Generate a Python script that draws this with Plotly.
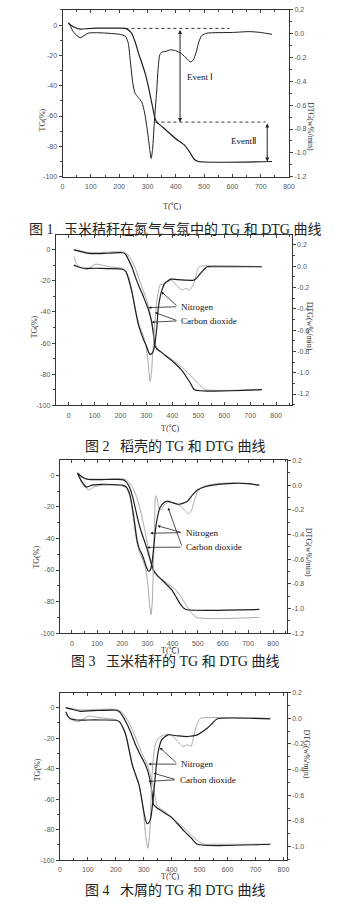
import plotly.graph_objects as go

# ---------------- data ----------------
# Fig.1  corn stalk in nitrogen
T1_TG = [20, 40, 62, 90, 120, 160, 200, 222, 235, 246, 258, 269, 280, 292, 305, 318, 326, 333, 345, 370, 400, 430, 450, 465, 480, 740]
TG1 = [1.3, -1.2, -2.6, -2.3, -2, -2, -2, -2.2, -3.5, -6, -12, -19, -25, -32, -42, -54, -61, -64, -66, -70, -75, -79, -84, -88.5, -90, -90]
T1_DTG = [22, 40, 62, 90, 120, 200, 222, 232, 240, 248, 256, 268, 280, 290, 300, 308, 313, 318, 325, 332, 338, 343, 350, 365, 380, 400, 420, 440, 452, 462, 472, 482, 492, 510, 600, 660, 700, 740]
DTG1 = [0.094, 0.011, -0.033, 0.005, 0.009, -0.004, -0.021, -0.078, -0.244, -0.410, -0.499, -0.537, -0.575, -0.665, -0.818, -0.971, -1.047, -0.971, -0.716, -0.499, -0.282, -0.180, -0.155, -0.148, -0.135, -0.142, -0.167, -0.212, -0.237, -0.218, -0.155, -0.065, -0.014, 0.005, 0.011, 0.018, 0.011, -0.005]

# Fig.2  rice husk
T2_TG_N2 = [20, 40, 69, 107, 150, 207, 220, 232, 245, 257, 270, 283, 295, 308, 318, 326, 333, 345, 358, 380, 408, 433, 455, 470, 485, 745]
TG2_N2 = [0, -0.8, -2.1, -2.5, -2.2, -1.9, -3, -6.8, -11.5, -17.4, -23, -28, -33, -38.7, -45, -53, -62, -64.5, -66, -69, -72.8, -77, -82, -86, -90, -90]
T2_TG_CO2 = [20, 40, 69, 107, 150, 207, 225, 240, 255, 270, 285, 300, 310, 320, 328, 335, 345, 360, 380, 408, 446, 470, 496, 515, 527, 745]
TG2_CO2 = [0, -0.5, -1.5, -1.8, -1.5, -1.3, -2.5, -6, -11, -18, -25, -32, -38, -46, -54, -61, -64, -66, -68.5, -71.7, -77, -81, -85.5, -88.5, -90, -90]
T2_DTG_N2 = [20, 35, 60, 100, 150, 207, 220, 232, 245, 257, 270, 289, 300, 308, 314, 320, 327, 333, 340, 345, 352, 358, 370, 395, 420, 446, 483, 495, 508, 521, 534, 550, 745]
DTG2_N2 = [0.009, -0.006, -0.020, -0.020, -0.023, -0.029, -0.050, -0.130, -0.254, -0.409, -0.559, -0.691, -0.749, -0.807, -0.828, -0.822, -0.793, -0.720, -0.574, -0.409, -0.297, -0.239, -0.162, -0.122, -0.127, -0.131, -0.131, -0.108, -0.068, -0.035, -0.006, -0.006, -0.006]
T2_DTG_CO2 = [20, 30, 45, 72, 101, 130, 157, 207, 222, 235, 250, 262, 275, 289, 300, 308, 314, 319, 323, 328, 333, 340, 345, 352, 370, 395, 421, 439, 453, 466, 483, 496, 502, 745]
DTG2_CO2 = [0.092, 0.023, -0.013, -0.032, 0.017, 0.009, -0.006, -0.022, -0.050, -0.137, -0.312, -0.457, -0.574, -0.661, -0.778, -0.938, -1.084, -1.011, -0.865, -0.691, -0.516, -0.326, -0.253, -0.176, -0.166, -0.131, -0.192, -0.224, -0.208, -0.224, -0.162, -0.038, -0.006, -0.006]

# Fig.3  corn stalk
T3_TG_N2 = [22, 40, 60, 80, 120, 160, 200, 215, 227, 240, 252, 265, 278, 291, 301, 311, 318, 324, 340, 356, 375, 395, 410, 427, 440, 453, 745]
TG3_N2 = [1.5, -1, -2.5, -2.7, -2.7, -2.6, -2.7, -4, -7, -13, -21, -30, -37, -43, -48, -53.5, -57, -60, -63.5, -66, -69, -72.3, -76, -80.7, -83.5, -85, -85]
T3_TG_CO2 = [22, 40, 60, 80, 120, 160, 200, 214, 227, 240, 253, 265, 278, 291, 304, 312, 320, 335, 356, 380, 408, 430, 447, 470, 494, 745]
TG3_CO2 = [1.5, -1, -2.2, -2.4, -2.4, -2.3, -2.3, -2.7, -4.5, -7.3, -12, -18, -26, -36, -47, -54, -60, -63.5, -66, -68.5, -72, -76, -80.7, -86, -90, -90]
T3_DTG_N2 = [22, 40, 58, 80, 120, 200, 215, 230, 245, 258, 268, 280, 295, 304, 312, 318, 325, 332, 340, 350, 365, 380, 400, 420, 440, 460, 480, 500, 530, 560, 620, 700, 745]
DTG3_N2 = [0.097, 0.026, -0.016, 0.000, 0.007, 0.000, -0.013, -0.077, -0.245, -0.439, -0.517, -0.569, -0.659, -0.698, -0.685, -0.633, -0.504, -0.362, -0.258, -0.181, -0.142, -0.129, -0.142, -0.155, -0.148, -0.129, -0.077, -0.038, -0.013, 0.000, 0.013, 0.013, 0.000]
T3_DTG_CO2 = [22, 40, 65, 90, 120, 200, 218, 232, 245, 258, 268, 280, 292, 300, 308, 314, 319, 324, 328, 333, 338, 345, 356, 366, 380, 400, 420, 440, 455, 465, 475, 488, 500, 520, 560, 650, 745]
DTG3_CO2 = [0.097, 0.013, -0.038, -0.013, 0.000, -0.006, -0.025, -0.103, -0.284, -0.465, -0.543, -0.594, -0.672, -0.775, -0.956, -1.052, -0.956, -0.633, -0.310, -0.085, -0.103, -0.181, -0.201, -0.161, -0.142, -0.142, -0.155, -0.187, -0.219, -0.232, -0.206, -0.116, -0.051, -0.013, 0.007, 0.020, 0.000]

# Fig.4  sawdust
T4_TG_N2 = [21, 45, 73, 120, 201, 215, 236, 253, 271, 288, 306, 315, 323, 330, 335, 347, 370, 399, 420, 445, 470, 492, 753]
TG4_N2 = [0, -1.2, -2.4, -2, -1.7, -3, -9.3, -16, -24.5, -31, -37.5, -42, -48, -56, -63.5, -65.7, -68.5, -72, -76, -81, -85.5, -89.6, -89.6]
T4_TG_CO2 = [21, 45, 73, 120, 201, 220, 240, 258, 276, 294, 312, 322, 332, 340, 347, 360, 380, 399, 420, 445, 470, 495, 515, 538, 753]
TG4_CO2 = [0, -0.8, -1.5, -1.3, -1.2, -2.5, -7.5, -14, -22, -30, -37, -43, -50, -58, -63.5, -66, -69, -71.5, -75, -79, -83.5, -87.5, -89.6, -89.6, -89.6]
T4_DTG_N2 = [21, 35, 60, 100, 150, 200, 213, 225, 236, 248, 259, 271, 283, 292, 300, 306, 312, 318, 325, 335, 345, 352, 364, 387, 422, 457, 492, 510, 527, 545, 562, 753]
DTG4_N2 = [0.052, 0.0, -0.013, -0.013, -0.013, -0.015, -0.026, -0.07, -0.129, -0.25, -0.362, -0.44, -0.517, -0.62, -0.724, -0.79, -0.822, -0.815, -0.78, -0.6, -0.37, -0.258, -0.168, -0.129, -0.137, -0.142, -0.129, -0.105, -0.078, -0.04, -0.005, -0.005]
T4_DTG_CO2 = [21, 40, 67, 102, 140, 200, 213, 225, 236, 248, 259, 271, 283, 292, 300, 307, 315, 322, 329, 335, 341, 352, 376, 399, 422, 440, 457, 469, 480, 490, 498, 503, 753]
DTG4_CO2 = [0.03, -0.01, -0.026, 0.018, 0.005, -0.01, -0.026, -0.07, -0.129, -0.25, -0.362, -0.44, -0.517, -0.62, -0.75, -0.92, -1.013, -0.88, -0.465, -0.3, -0.207, -0.155, -0.129, -0.129, -0.181, -0.220, -0.207, -0.22, -0.129, -0.05, -0.013, 0.0, 0.0]

# tick labels
X_TICKS = [0, 100, 200, 300, 400, 500, 600, 700, 800]
TG_TICKS = [0, -20, -40, -60, -80, -100]
DTG_TICKS = [0.2, 0.0, -0.2, -0.4, -0.6, -0.8, -1.0, -1.2]
DTG_TICKS_4 = [0.2, 0.0, -0.2, -0.4, -0.6, -0.8, -1.0]

CAPTIONS = [
    "图 1\u00a0\u00a0\u00a0玉米秸秆在氮气气氛中的 TG 和 DTG 曲线",
    "图 2\u00a0\u00a0\u00a0稻壳的 TG 和 DTG 曲线",
    "图 3\u00a0\u00a0\u00a0玉米秸秆的 TG 和 DTG 曲线",
    "图 4\u00a0\u00a0\u00a0木屑的 TG 和 DTG 曲线",
]

# ---------------- layout geometry (pixels) ----------------
W, H = 338, 914
# left, right, top, bottom of each plot box
BOXES = [
    (62, 294, 6, 174),
    (55, 296.7, 233, 404.3),
    (59.3, 291.7, 460, 634),
    (59.3, 291.7, 694, 862.7),
]
X_RANGES = [[0, 800], [-50, 860], [-48, 854], [0, 812]]
TG_RANGES = [[-100, 10], [-100, 9.4], [-100, 9.4], [-100, 9.8]]
DTG_RANGES = [[-1.2, 0.2], [-1.305, 0.29], [-1.2, 0.2], [-1.106, 0.2]]
CAPTION_Y = [218, 445, 672, 903]
XTITLE_Y = [198, 428, 658, 886]
YTITLE = [(35, 103), (27, 325), (29, 557), (30, 785)]
Y2TITLE = [(322, 97), (322, 325), (320, 553), (319, 783)]

BLACK = "#1e1e1e"
GRAY = "#a8a8a8"
TICKFONT = dict(family="Liberation Sans, Arial", size=7, color="#555555")
SERIF = "Liberation Serif, Noto Sans CJK SC"


def px(x):
    return x / W


def py(y):
    return 1 - y / H


fig = go.Figure()


def add_line(x, y, i, right, color, width):
    xa = "x" if i == 0 else f"x{i + 1}"
    ya = f"y{2 * i + (2 if right else 1)}"
    if ya == "y1":
        ya = "y"
    fig.add_trace(go.Scatter(x=x, y=y, mode="lines", xaxis=xa, yaxis=ya,
                             line=dict(color=color, width=width, shape="spline", smoothing=0.6),
                             showlegend=False, hoverinfo="skip"))


# Fig.1
add_line(T1_TG, TG1, 0, False, BLACK, 1.2)
add_line(T1_DTG, DTG1, 0, True, BLACK, 1.0)
# Fig.2
add_line(T2_TG_CO2, TG2_CO2, 1, False, GRAY, 1.0)
add_line(T2_DTG_CO2, DTG2_CO2, 1, True, GRAY, 1.0)
add_line(T2_TG_N2, TG2_N2, 1, False, BLACK, 1.2)
add_line(T2_DTG_N2, DTG2_N2, 1, True, BLACK, 1.2)
# Fig.3
add_line(T3_TG_CO2, TG3_CO2, 2, False, GRAY, 1.0)
add_line(T3_DTG_CO2, DTG3_CO2, 2, True, GRAY, 1.0)
add_line(T3_TG_N2, TG3_N2, 2, False, BLACK, 1.2)
add_line(T3_DTG_N2, DTG3_N2, 2, True, BLACK, 1.2)
# Fig.4
add_line(T4_TG_CO2, TG4_CO2, 3, False, GRAY, 1.0)
add_line(T4_DTG_CO2, DTG4_CO2, 3, True, GRAY, 1.0)
add_line(T4_TG_N2, TG4_N2, 3, False, BLACK, 1.2)
add_line(T4_DTG_N2, DTG4_N2, 3, True, BLACK, 1.2)

layout = {}
annotations = []
for i, (l, r, t, b) in enumerate(BOXES):
    xk = "xaxis" if i == 0 else f"xaxis{i + 1}"
    ylk = "yaxis" if i == 0 else f"yaxis{2 * i + 1}"
    yrk = f"yaxis{2 * i + 2}"
    yl_id = "y" if i == 0 else f"y{2 * i + 1}"
    x_id = "x" if i == 0 else f"x{i + 1}"
    dtk = DTG_TICKS_4 if i == 3 else DTG_TICKS
    layout[xk] = dict(domain=[px(l), px(r)], anchor=yl_id, range=X_RANGES[i],
                      tickmode="array", tickvals=X_TICKS, ticktext=[str(v) for v in X_TICKS],
                      ticks="inside", ticklen=3, tickcolor="#444", tickwidth=1,
                      minor=dict(tickmode="linear", tick0=0, dtick=50, ticks="inside", ticklen=2, tickcolor="#444"),
                      showline=True, linecolor="#333", linewidth=1, mirror="ticks",
                      showgrid=False, zeroline=False, tickfont=TICKFONT, ticklabelstandoff=3)
    layout[ylk] = dict(domain=[py(b), py(t)], anchor=x_id, range=TG_RANGES[i],
                       tickmode="array", tickvals=TG_TICKS, ticktext=[str(v) for v in TG_TICKS],
                       ticks="outside", ticklen=3, tickcolor="#444",
                       minor=dict(tickmode="linear", tick0=0, dtick=10, ticks="outside", ticklen=2, tickcolor="#444"),
                       showline=True, linecolor="#333", linewidth=1,
                       showgrid=False, zeroline=False, tickfont=TICKFONT)
    layout[yrk] = dict(overlaying=yl_id, side="right", anchor=x_id, range=DTG_RANGES[i],
                       tickmode="array", tickvals=dtk, ticktext=[f"{v:.1f}" for v in dtk],
                       ticks="outside", ticklen=3, tickcolor="#444",
                       minor=dict(tickmode="linear", tick0=0, dtick=0.1, ticks="outside", ticklen=2, tickcolor="#444"),
                       showline=True, linecolor="#333", linewidth=1,
                       showgrid=False, zeroline=False, tickfont=TICKFONT)
    # axis titles
    annotations.append(dict(text="T(℃)", x=px((l + r) / 2 - 3), y=py(XTITLE_Y[i]), xref="paper", yref="paper",
                            showarrow=False, font=dict(family=SERIF, size=8, color="#333")))
    annotations.append(dict(text="TG(%)", x=px(YTITLE[i][0]), y=py(YTITLE[i][1]), xref="paper", yref="paper",
                            showarrow=False, textangle=-90, font=dict(family=SERIF, size=8, color="#333")))
    annotations.append(dict(text="DTG(w%/min)", x=px(Y2TITLE[i][0]), y=py(Y2TITLE[i][1]), xref="paper", yref="paper",
                            showarrow=False, textangle=90, font=dict(family=SERIF, size=8, color="#333")))
    annotations.append(dict(text=CAPTIONS[i], x=px(177.5), y=py(CAPTION_Y[i]), xref="paper", yref="paper",
                            showarrow=False, font=dict(family=SERIF, size=14, color="#222")))

LABEL_FONT = dict(family="Liberation Serif", size=9, color="#111")

# Fig.1 event markers
shapes = [
    dict(type="line", xref="x", yref="y", x0=222, x1=590, y0=-2.2, y1=-2.2,
         line=dict(color="#333", width=1, dash="dot")),
    dict(type="line", xref="x", yref="y", x0=328, x1=717, y0=-64, y1=-64,
         line=dict(color="#333", width=1, dash="dot")),
]
annotations += [
    dict(x=415, y=-64, ax=415, ay=-2.2, xref="x", yref="y", axref="x", ayref="y", text="",
         showarrow=True, arrowhead=2, arrowside="end+start", arrowsize=0.8, arrowwidth=1, arrowcolor="#222"),
    dict(x=723, y=-90, ax=723, ay=-64, xref="x", yref="y", axref="x", ayref="y", text="",
         showarrow=True, arrowhead=2, arrowside="end+start", arrowsize=0.8, arrowwidth=1, arrowcolor="#222"),
    dict(x=434, y=-34, xref="x", yref="y", text="Event Ⅰ", showarrow=False, xanchor="left", font=LABEL_FONT),
    dict(x=640, y=-76.5, xref="x", yref="y", text="EventⅡ", showarrow=False, font=LABEL_FONT),
]


def pointer(xr, yr, tail, tip):
    return dict(x=tip[0], y=tip[1], ax=tail[0], ay=tail[1], xref=xr, yref=yr, axref=xr, ayref=yr,
                text="", showarrow=True, arrowhead=2, arrowsize=0.7, arrowwidth=0.8, arrowcolor="#222")


def legend_labels(xr, yr, n_pos, c_pos, n_tips, c_tips):
    out = [dict(x=n_pos[0], y=n_pos[1], xref=xr, yref=yr, text="Nitrogen", showarrow=False,
                xanchor="left", font=LABEL_FONT),
           dict(x=c_pos[0], y=c_pos[1], xref=xr, yref=yr, text="Carbon dioxide", showarrow=False,
                xanchor="left", font=LABEL_FONT)]
    for tp in n_tips:
        out.append(pointer(xr, yr, (n_pos[0] - 6, n_pos[1]), tp))
    for tp in c_tips:
        out.append(pointer(xr, yr, (c_pos[0] - 6, c_pos[1]), tp))
    return out


annotations += legend_labels("x2", "y3", (427, -36.6), (427, -45.7), [(308, -37.2), (358, -27)], [(320, -46.6), (333, -40.4)])
annotations += legend_labels("x3", "y5", (444, -36.3), (444, -45.5), [(311, -36.7), (340, -32)], [(298, -45.7), (382, -20.5)])
annotations += legend_labels("x4", "y7", (428, -37.1), (422, -47.3), [(317, -37), (358, -26.3)], [(317, -48.4), (335, -43)])

fig.update_layout(**layout)
fig.update_layout(width=W, height=H, margin=dict(l=0, r=0, t=0, b=0),
                  paper_bgcolor="white", plot_bgcolor="white",
                  annotations=annotations, shapes=shapes, showlegend=False)

fig.write_html("out.html")
